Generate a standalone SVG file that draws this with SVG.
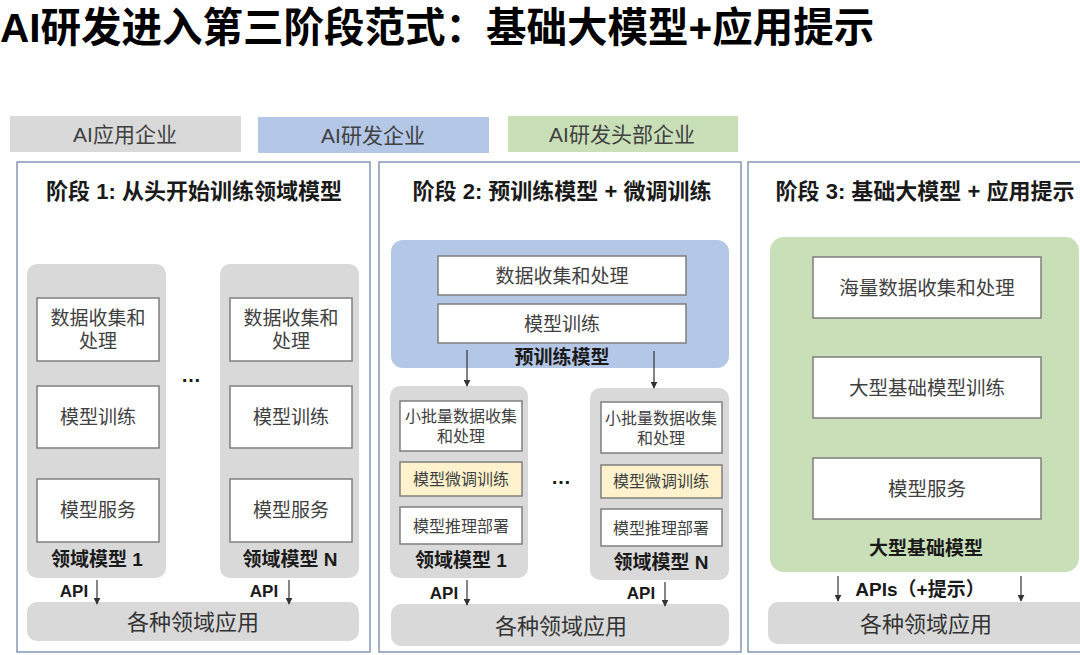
<svg xmlns="http://www.w3.org/2000/svg" width="1080" height="655" viewBox="0 0 1080 655">
<defs>
<style>
text{font-family:"Liberation Sans","Noto Sans CJK SC",sans-serif;dominant-baseline:central;text-anchor:middle;fill:#333}
.title{font-size:40.5px;font-weight:bold;fill:#000;text-anchor:start;dominant-baseline:auto}
.legend{font-size:21px;fill:#404040}
.ptitle{font-size:22px;font-weight:bold;fill:#1a1a1a}
.panel{fill:#fff;stroke:#8496b8;stroke-width:1.5}
.gray{fill:#d9d9d9}
.blue{fill:#b4c7e7}
.green{fill:#c9dfb7}
.box{fill:#fff;stroke:#7f7f7f;stroke-width:1.5}
.ybox{fill:#fff2cc;stroke:#7f7f7f;stroke-width:1.5}
.bt{font-size:19px;fill:#404040}
.st{font-size:16px;fill:#404040}
.bt3{font-size:19.5px;fill:#404040}
.lbl{font-size:19px;font-weight:bold;fill:#1a1a1a}
.api{font-size:17px;font-weight:bold;fill:#1a1a1a}
.app{font-size:22px;fill:#333}
.dots{font-size:20px;font-weight:bold;fill:#1a1a1a}
.conn line{stroke:#333;stroke-width:1.2;marker-end:url(#ah)}
</style>
<marker id="ah" viewBox="0 0 10 10" refX="9" refY="5" markerWidth="7" markerHeight="7" markerUnits="userSpaceOnUse" orient="auto">
<path d="M0,0L10,5L0,10z" fill="#333"/>
</marker>
</defs>
<rect width="1080" height="655" fill="#fff"/>

<text class="title" x="0" y="42">AI研发进入第三阶段范式：基础大模型+应用提示</text>

<g id="legend">
<rect class="gray" x="10" y="116" width="231" height="36"/>
<text class="legend" x="125" y="134">AI应用企业</text>
<rect class="blue" x="258" y="117" width="231" height="36"/>
<text class="legend" x="373" y="135">AI研发企业</text>
<rect class="green" x="508" y="116" width="230" height="36"/>
<text class="legend" x="622" y="134">AI研发头部企业</text>
</g>

<!-- Panel 1 -->
<g id="panel1">
<rect class="panel" x="17" y="162" width="353" height="490"/>
<text class="ptitle" x="194" y="191">阶段 1: 从头开始训练领域模型</text>
</g>
<g id="p1-model1">
<rect class="gray" x="27" y="264" width="139" height="314" rx="10"/>
<rect class="box" x="37" y="298" width="122" height="63"/>
<text class="bt" x="98" y="318">数据收集和</text>
<text class="bt" x="98" y="341">处理</text>
<rect class="box" x="37" y="386" width="122" height="62"/>
<text class="bt" x="98" y="417">模型训练</text>
<rect class="box" x="37" y="479" width="122" height="63"/>
<text class="bt" x="98" y="510">模型服务</text>
<text class="lbl" x="97" y="559">领域模型 1</text>
</g>
<g id="p1-modelN">
<rect class="gray" x="220" y="264" width="139" height="314" rx="10"/>
<rect class="box" x="230" y="298" width="122" height="63"/>
<text class="bt" x="291" y="318">数据收集和</text>
<text class="bt" x="291" y="341">处理</text>
<rect class="box" x="230" y="386" width="122" height="62"/>
<text class="bt" x="291" y="417">模型训练</text>
<rect class="box" x="230" y="479" width="122" height="63"/>
<text class="bt" x="291" y="510">模型服务</text>
<text class="lbl" x="290" y="559">领域模型 N</text>
</g>
<text class="dots" x="191" y="375">…</text>
<g id="p1-apps">
<rect class="gray" x="27" y="602" width="332" height="39" rx="10"/>
<text class="app" x="193" y="622">各种领域应用</text>
</g>
<text class="api" x="74" y="591">API</text>
<text class="api" x="264" y="591">API</text>

<!-- Panel 2 -->
<g id="panel2">
<rect class="panel" x="379" y="162" width="362" height="490"/>
<text class="ptitle" x="562" y="191">阶段 2: 预训练模型 + 微调训练</text>
</g>
<g id="p2-pretrain">
<rect class="blue" x="391" y="240" width="338" height="128" rx="12"/>
<rect class="box" x="438" y="256" width="248" height="39"/>
<text class="bt" x="562" y="276">数据收集和处理</text>
<rect class="box" x="438" y="304" width="248" height="39"/>
<text class="bt" x="562" y="324">模型训练</text>
<text class="lbl" x="562" y="357">预训练模型</text>
</g>
<g id="p2-model1">
<rect class="gray" x="390" y="386" width="138" height="192" rx="10"/>
<rect class="box" x="400" y="401" width="122" height="50"/>
<text class="st" x="461" y="416">小批量数据收集</text>
<text class="st" x="461" y="436">和处理</text>
<rect class="ybox" x="400" y="462" width="122" height="34"/>
<text class="st" x="461" y="479">模型微调训练</text>
<rect class="box" x="400" y="507" width="122" height="37"/>
<text class="st" x="461" y="526">模型推理部署</text>
<text class="lbl" x="461" y="560">领域模型 1</text>
</g>
<g id="p2-modelN">
<rect class="gray" x="590" y="388" width="139" height="192" rx="10"/>
<rect class="box" x="601" y="402" width="121" height="51"/>
<text class="st" x="661" y="418">小批量数据收集</text>
<text class="st" x="661" y="438">和处理</text>
<rect class="ybox" x="601" y="465" width="121" height="33"/>
<text class="st" x="661" y="481">模型微调训练</text>
<rect class="box" x="601" y="509" width="121" height="37"/>
<text class="st" x="661" y="528">模型推理部署</text>
<text class="lbl" x="661" y="562">领域模型 N</text>
</g>
<text class="dots" x="561" y="477">…</text>
<g id="p2-apps">
<rect class="gray" x="391" y="604" width="338" height="42" rx="10"/>
<text class="app" x="561" y="626">各种领域应用</text>
</g>
<text class="api" x="444" y="593">API</text>
<text class="api" x="641" y="593">API</text>

<!-- Panel 3 -->
<g id="panel3">
<rect class="panel" x="748" y="162" width="340" height="490"/>
<text class="ptitle" x="925" y="191">阶段 3: 基础大模型 + 应用提示</text>
</g>
<g id="p3-foundation">
<rect class="green" x="770" y="237" width="309" height="335" rx="14"/>
<rect class="box" x="813" y="257" width="228" height="61"/>
<text class="bt3" x="927" y="288">海量数据收集和处理</text>
<rect class="box" x="813" y="357" width="228" height="61"/>
<text class="bt3" x="927" y="388">大型基础模型训练</text>
<rect class="box" x="813" y="458" width="228" height="61"/>
<text class="bt3" x="927" y="489">模型服务</text>
<text class="lbl" x="926" y="548">大型基础模型</text>
</g>
<g id="p3-apps">
<rect class="gray" x="768" y="602" width="320" height="42" rx="10"/>
<text class="app" x="926" y="624">各种领域应用</text>
</g>
<text class="lbl" x="920" y="589">APIs（+提示）</text>

<g id="connectors" class="conn">
<line x1="97" y1="580" x2="97" y2="604"/>
<line x1="289" y1="580" x2="289" y2="604"/>
<line x1="467" y1="350" x2="467" y2="386"/>
<line x1="654" y1="351" x2="654" y2="388"/>
<line x1="467" y1="580" x2="467" y2="605"/>
<line x1="665" y1="582" x2="665" y2="606"/>
<line x1="838" y1="576" x2="838" y2="601"/>
<line x1="1021" y1="576" x2="1021" y2="601"/>
</g>
</svg>
